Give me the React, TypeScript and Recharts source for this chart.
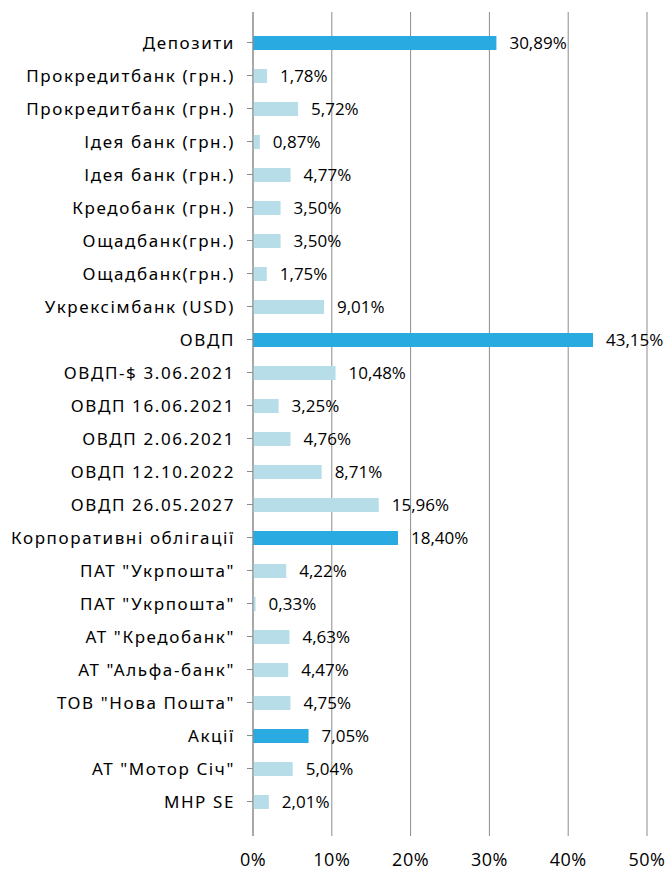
import { BarChart, Bar, XAxis, YAxis, CartesianGrid, Cell, LabelList } from "recharts";

const categories = [
  "Депозити",
  "Прокредитбанк (грн.)",
  "Прокредитбанк (грн.)",
  "Ідея банк (грн.)",
  "Ідея банк (грн.)",
  "Кредобанк (грн.)",
  "Ощадбанк(грн.)",
  "Ощадбанк(грн.)",
  "Укрексімбанк (USD)",
  "ОВДП",
  "ОВДП-$ 3.06.2021",
  "ОВДП 16.06.2021",
  "ОВДП 2.06.2021",
  "ОВДП 12.10.2022",
  "ОВДП 26.05.2027",
  "Корпоративні облігації",
  "ПАТ \"Укрпошта\"",
  "ПАТ \"Укрпошта\"",
  "АТ \"Кредобанк\"",
  "АТ \"Альфа-банк\"",
  "ТОВ \"Нова Пошта\"",
  "Акції",
  "АТ \"Мотор Січ\"",
  "MHP SE",
];

const shares = [
  30.89, 1.78, 5.72, 0.87, 4.77, 3.5, 3.5, 1.75, 9.01, 43.15, 10.48, 3.25, 4.76, 8.71, 15.96, 18.4,
  4.22, 0.33, 4.63, 4.47, 4.75, 7.05, 5.04, 2.01,
];

// group headers get the dark bar
const groupRows = ["Депозити", "ОВДП", "Корпоративні облігації", "Акції"];

const xTicks = [0, 10, 20, 30, 40, 50];

const data = categories.map((name, i) => ({ id: i, name, value: shares[i] }));

const fmt = (v: number) => v.toFixed(2).replace(".", ",") + "%";

export default function App() {
  return (
    <div style={{ position: "absolute", left: 0, top: 0, background: "#fff" }}>
      <BarChart
        width={669}
        height={872}
        data={data}
        layout="vertical"
        margin={{ top: 12, right: 22, left: 0, bottom: 0 }}
        barCategoryGap={0}
      >
        <CartesianGrid horizontal={false} stroke="#8c8c8c" strokeWidth={1} />
        <XAxis
          type="number"
          domain={[0, 50]}
          ticks={xTicks}
          tickFormatter={(v) => `${v}%`}
          axisLine={false}
          tickLine={false}
          tickMargin={11}
          height={36}
          tick={{ fill: "#000", fontSize: 18, fontFamily: "Open Sans", letterSpacing: 0.5 }}
        />
        <YAxis
          type="category"
          dataKey="id"
          width={253}
          tickFormatter={(i) => categories[i]}
          axisLine={{ stroke: "#8c8c8c" }}
          tickLine={{ stroke: "#8c8c8c" }}
          tickSize={6}
          tickMargin={12}
          interval={0}
          padding={{ top: 14, bottom: 18 }}
          tick={{ fill: "#000", fontSize: 17, fontFamily: "Noto Sans", letterSpacing: 1.6 }}
        />
        <Bar dataKey="value" barSize={14} isAnimationActive={false}>
          {data.map((d) => (
            <Cell key={d.id} fill={groupRows.includes(d.name) ? "#29abe2" : "#b7dee8"} />
          ))}
          <LabelList
            dataKey="value"
            position="right"
            offset={13}
            formatter={(v: any) => fmt(Number(v))}
            style={{ fill: "#000", fontSize: 17, fontFamily: "Open Sans" }}
          />
        </Bar>
      </BarChart>
    </div>
  );
}
